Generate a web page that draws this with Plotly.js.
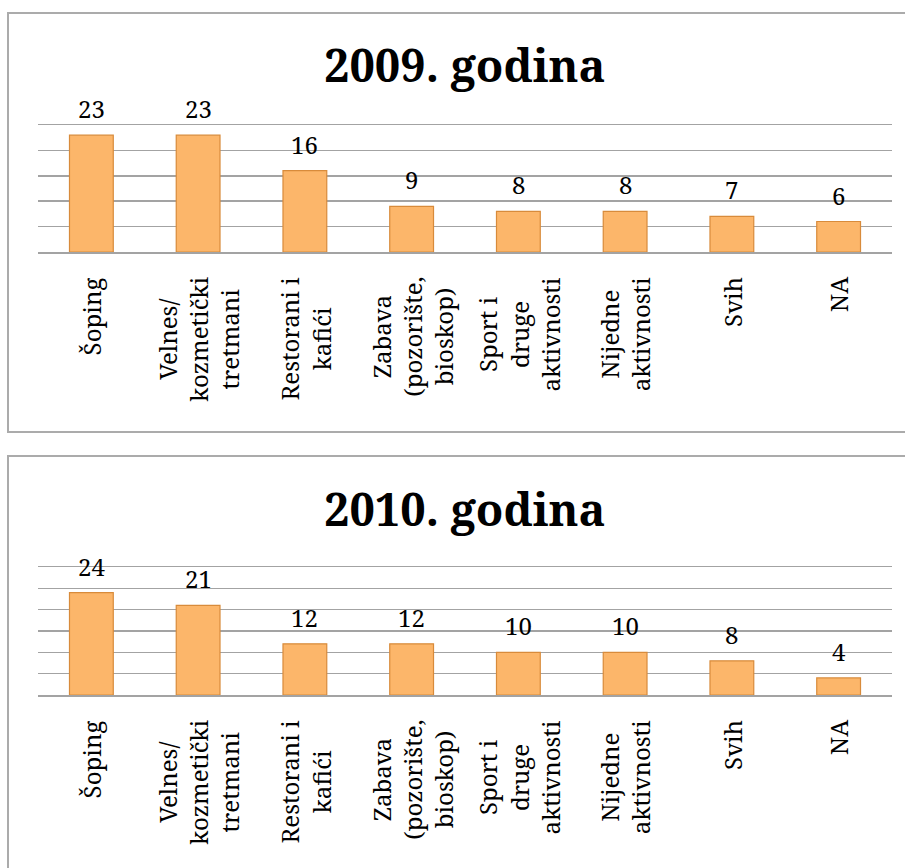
<!DOCTYPE html>
<html>
<head>
<meta charset="utf-8">
<script src="https://cdn.plot.ly/plotly-3.0.1.min.js"></script>
<style>
html,body{margin:0;padding:0;background:#fff;}
#chart{width:905px;height:868px;}
</style>
</head>
<body>
<div id="chart"></div>
<script>
// ---- data ----
const categories = [
  "Šoping",
  "Velnes/<br>kozmetički<br>tretmani",
  "Restorani i<br>kafići",
  "Zabava<br>(pozorište,<br>bioskop)",
  "Sport i<br>druge<br>aktivnosti",
  "Nijedne<br>aktivnosti",
  "Svih",
  "NA"
];
const values2009 = [23, 23, 16, 9, 8, 8, 7, 6];
const values2010 = [24, 21, 12, 12, 10, 10, 8, 4];
const title2009 = "2009. godina";
const title2010 = "2010. godina";

// ---- layout helpers (pixel -> paper) ----
const W = 905, H = 868;
const px = v => v / W;
const py = v => 1 - v / H;

const serif = "Noto Serif";
const keys = categories.map((c, i) => "c" + i);

function barTrace(vals, xa, ya) {
  return {
    type: "bar",
    x: keys, y: vals,
    xaxis: xa, yaxis: ya,
    width: 0.41,
    marker: { color: "#FCB66A", line: { color: "#D88B3B", width: 1.2 } },
    hoverinfo: "none",
    showlegend: false
  };
}

const data = [
  barTrace(values2009, "x", "y"),
  barTrace(values2010, "x2", "y2")
];

const annotations = [];
function addLabels(vals, xa, ya) {
  vals.forEach((v, i) => {
    annotations.push({
      xref: xa, yref: ya, x: keys[i], y: v,
      text: String(v), showarrow: false,
      yanchor: "bottom", yshift: 8,
      font: { family: serif, size: 24, color: "#000" }
    });
    annotations.push({
      xref: xa, yref: ya, x: keys[i], y: 0,
      text: categories[i], showarrow: false,
      textangle: -90, align: "center",
      yanchor: "top", yshift: -23,
      font: { family: serif, size: 24, color: "#000" }
    });
  });
}
addLabels(values2009, "x", "y");
addLabels(values2010, "x2", "y2");

annotations.push({
  xref: "paper", yref: "paper", x: px(465), y: py(65),
  text: "<b>" + title2009 + "</b>", showarrow: false,
  xanchor: "center", yanchor: "middle",
  font: { family: serif, size: 45, color: "#000" }
});
annotations.push({
  xref: "paper", yref: "paper", x: px(465), y: py(508),
  text: "<b>" + title2010 + "</b>", showarrow: false,
  xanchor: "center", yanchor: "middle",
  font: { family: serif, size: 45, color: "#000" }
});

const xaxisBase = {
  type: "category",
  range: [-0.5, 7.5],
  showticklabels: false, ticks: "",
  showgrid: false, zeroline: false,
  showline: true, mirror: true, linecolor: "#A3A3A3", linewidth: 1.5,
  domain: [px(38), px(892)]
};
const yaxisBase = {
  showticklabels: false, ticks: "",
  showgrid: true, gridcolor: "#A3A3A3", gridwidth: 1.5,
  zeroline: false, showline: false, dtick: 5
};

const layout = {
  width: W, height: H,
  margin: { l: 0, r: 0, t: 0, b: 0 },
  paper_bgcolor: "#fff", plot_bgcolor: "rgba(0,0,0,0)",
  bargap: 0.59,
  xaxis: Object.assign({}, xaxisBase, { anchor: "y" }),
  yaxis: Object.assign({}, yaxisBase, { range: [0, 25], domain: [py(252), py(125)], anchor: "x" }),
  xaxis2: Object.assign({}, xaxisBase, { anchor: "y2" }),
  yaxis2: Object.assign({}, yaxisBase, { range: [0, 30], domain: [py(695), py(567)], anchor: "x2" }),
  annotations: annotations,
  shapes: [
    { type: "rect", xref: "paper", yref: "paper", layer: "below",
      x0: px(8), x1: px(915), y0: py(13), y1: py(432),
      line: { color: "#ABABAB", width: 2 }, fillcolor: "rgba(0,0,0,0)" },
    { type: "rect", xref: "paper", yref: "paper", layer: "below",
      x0: px(8), x1: px(915), y0: py(456), y1: py(880),
      line: { color: "#ABABAB", width: 2 }, fillcolor: "rgba(0,0,0,0)" }
  ]
};

Plotly.newPlot("chart", data, layout, { staticPlot: true, displayModeBar: false });
</script>
</body>
</html>
